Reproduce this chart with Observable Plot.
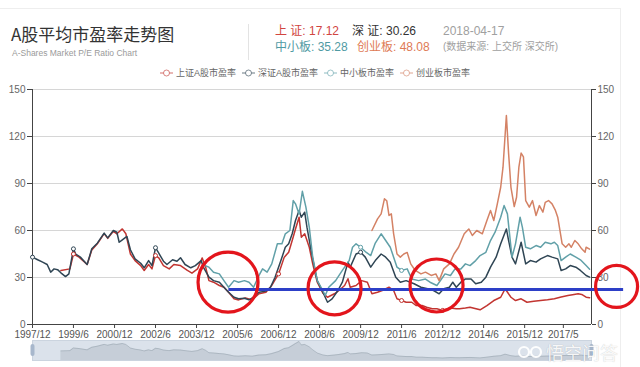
<!DOCTYPE html>
<html><head><meta charset="utf-8">
<script src="https://cdn.jsdelivr.net/npm/d3@7"></script>
<script src="https://cdn.jsdelivr.net/npm/@observablehq/plot@0.6"></script>
<style>
body{margin:0;background:#fff;font-family:"Liberation Sans","Noto Sans CJK SC",Arial,sans-serif;}
#wrap{position:relative;width:640px;height:367px;overflow:hidden;background:#fff;}
.abs{position:absolute;white-space:nowrap;}
#card{position:absolute;left:-2px;top:8px;width:623px;height:400px;border:1px solid #eee;box-sizing:border-box;}
#legend{position:absolute;left:160px;top:67px;display:flex;align-items:center;font-size:9px;line-height:12px;color:#666;}
#legend .it{display:flex;align-items:center;margin-right:6px;}
#legend svg{margin-right:3px;}
</style></head><body><div id="wrap"><div id="card"></div></div>
<script>
// ---------- data ----------
const seriesNames = ["上证A股市盈率", "深证A股市盈率", "中小板市盈率", "创业板市盈率"];
const seriesColors = ["#c23531", "#2f4554", "#61a0a8", "#d48265"];

const tickDates = ["1997-12","1999-06","2000-12","2002-06","2003-12","2005-06","2006-12","2008-06","2009-12","2011-06","2012-12","2014-06","2015-12","2017-05"];
const tickLabels = ["1997/12","1999/6","2000/12","2002/6","2003/12","2005/6","2006/12","2008/6","2009/12","2011/6","2012/12","2014/6","2015/12","2017/5"];
const yTicks = [0, 30, 60, 90, 120, 150];

const shanghai = [["1998-12-15",34.5],["1999-04-15",35.5],["1999-06",45],["1999-08-15",43],["1999-12",38.3],["2000-02",47.5],["2000-04-15",51.5],["2000-07-15",58],["2000-09",55],["2000-11-15",59.5],["2001-01",57.9],["2001-03-15",61],["2001-05",57.9],["2001-07",45],["2001-09",40.8],["2001-11-15",37.6],["2002-01",34.5],["2002-03",38.3],["2002-04-15",35.5],["2002-06",44],["2002-07-15",42.6],["2002-09-15",37.6],["2002-12",35.5],["2003-02",38.3],["2003-05",37.6],["2003-08",34.5],["2003-10",32.8],["2003-12-15",35.5],["2004-02-15",42.5],["2004-04",36.6],["2004-05-15",28],["2004-07-15",27],["2004-10",24.9],["2004-12",23.8],["2005-02",20.6],["2005-04-15",16.4],["2005-06-15",15.7],["2005-09-15",17],["2005-12-15",15.7],["2006-03-15",19.6],["2006-06-15",20.6],["2006-09",24.9],["2006-12",32.3],["2007-02-15",43],["2007-04-15",46.1],["2007-06",53.6],["2007-07-15",61],["2007-09",68.5],["2007-10",55.7],["2007-11-15",57.9],["2008-01-15",49.3],["2008-03",38.7],["2008-05",27],["2008-07-15",20],["2008-09-15",17.4],["2008-12-15",19.6],["2009-02-15",21.7],["2009-05",24.9],["2009-06-15",29.2],["2009-07-15",23.8],["2009-10",24.9],["2009-12-15",28],["2010-03",27],["2010-05",19.6],["2010-07-15",20.6],["2010-09-15",21.7],["2010-12-15",23.8],["2011-02-15",21.7],["2011-04",16.4],["2011-06",15.3],["2011-08",14.2],["2011-10-15",14.2],["2011-12-15",12.1],["2012-03",12.1],["2012-05",11],["2012-07-15",10],["2012-09-15",10],["2012-12",9],["2013-03-15",10.6],["2013-06",10],["2013-07-15",10],["2013-10",10.5],["2013-12",11],["2014-04-15",9.4],["2014-07-15",12.1],["2014-10-15",15.3],["2015-01-15",17.4],["2015-03-15",22.8],["2015-06",17.4],["2015-08",15.3],["2015-10-15",16.4],["2016-01",14.2],["2016-04",14.8],["2016-07",15.3],["2016-10",15.8],["2017-01",16.4],["2017-04",17.5],["2017-07",18.5],["2017-09",19],["2017-11-15",19.6],["2018-01",19.2],["2018-03",17.4],["2018-04-17",17.12]];

const shenzhen = [["1997-12",43],["1998-02",41.5],["1998-04-15",39.8],["1998-06-15",38.3],["1998-08",33.4],["1998-09-15",35.5],["1998-11",35],["1998-12-15",33],["1999-02-15",30.6],["1999-04",32.3],["1999-06",48.3],["1999-07",45],["1999-09",43],["1999-12",38.3],["2000-02",48.3],["2000-04-15",51.9],["2000-07-15",58.3],["2000-09",55.3],["2000-11-15",60],["2001-01",58.9],["2001-02",52.5],["2001-03-15",54],["2001-05-15",56.2],["2001-07",47.7],["2001-09",41.9],["2001-11-15",39.1],["2002-01",36.2],["2002-03",40.8],["2002-04-15",37.6],["2002-06",49],["2002-07-15",45.5],["2002-09-15",40.4],["2002-11",38.3],["2003-01-15",41.3],["2003-03-15",40.4],["2003-05",42.6],["2003-07",38.3],["2003-09-15",36.2],["2003-11-15",37.6],["2004-02",40.8],["2004-03",36.6],["2004-05-15",30.2],["2004-07-15",28],["2004-10",27],["2004-12",23.8],["2005-02",20.6],["2005-04-15",17.4],["2005-06-15",16.4],["2005-09",16.8],["2005-11",15.7],["2006-01",17.4],["2006-03-15",20.6],["2006-06-15",21.3],["2006-08-15",23.8],["2006-10-15",30.2],["2007-01",40.8],["2007-03",49.3],["2007-04-15",51.5],["2007-06",57.9],["2007-07-15",66.4],["2007-09",72.8],["2007-10",68.5],["2007-11-15",71.7],["2007-12-15",62.1],["2008-02",49.3],["2008-03-15",38.7],["2008-05",28],["2008-07-15",20.6],["2008-09-15",14.2],["2008-11-15",16.4],["2009-02",21.7],["2009-04",27],["2009-06-15",39.8],["2009-07-15",36.6],["2009-10",45],["2009-12",46.1],["2010-02",43],["2010-04-15",36.6],["2010-06-15",40.8],["2010-09",45],["2010-11",43],["2011-01",39.8],["2011-03-15",30.2],["2011-05-15",27],["2011-08",28],["2011-11-15",26],["2012-02-15",23.8],["2012-05-15",22.8],["2012-08",21.7],["2012-10-15",19.6],["2012-12-15",22.8],["2013-03",23.8],["2013-04-15",27],["2013-06",23.8],["2013-08",27],["2013-10",29.1],["2013-12-15",29.1],["2014-02-15",26],["2014-05",27],["2014-07",30.2],["2014-09",36.6],["2014-11-15",43],["2015-01-15",51.5],["2015-04",61],["2015-05",53.6],["2015-06-15",43],["2015-08",38.7],["2015-10-15",52.5],["2015-12-15",38.7],["2016-02-15",40.8],["2016-05",39.8],["2016-07",41.9],["2016-10",44],["2016-12",43],["2017-02-15",41.9],["2017-04",34.5],["2017-06",35.5],["2017-08",37.6],["2017-10-15",36.6],["2017-12-15",34.5],["2018-03",31.3],["2018-04-17",30.26]];

const sme = [["2004-03",38],["2004-05-15",36.6],["2004-07-15",33.4],["2004-10",32.3],["2004-12",28],["2005-02",23.8],["2005-04-15",28],["2005-06-15",27],["2005-09",28],["2005-11",27],["2006-01",23.8],["2006-03-15",31.3],["2006-05",35.5],["2006-07",33.4],["2006-09",38.7],["2006-11-15",51.5],["2007-01-15",51.5],["2007-03",57.9],["2007-05",60],["2007-06-15",79.1],["2007-07-15",77],["2007-09",70.6],["2007-10-15",85],["2007-12",74.9],["2008-01-15",62.1],["2008-03",43],["2008-05",28],["2008-07-15",21.7],["2008-08-15",18.5],["2008-10",23.8],["2009-01",28],["2009-04",34.5],["2009-07",40.8],["2009-08-15",49.3],["2009-10",51.5],["2009-12",49.3],["2010-02-15",46],["2010-04-15",44],["2010-06-15",52],["2010-09",57.9],["2010-11",53.6],["2011-01",49.3],["2011-02-15",43],["2011-04",36.6],["2011-06",34.5],["2011-08-15",35.5],["2011-10-15",29],["2012-01-15",28],["2012-04-15",29],["2012-06-15",27],["2012-09-15",24.9],["2012-11",28],["2013-01",32.3],["2013-03-15",31.3],["2013-05-15",35.5],["2013-08",35.5],["2013-10",38.7],["2013-12",37.6],["2014-02-15",40.8],["2014-04-15",44],["2014-07",46.1],["2014-09",53.6],["2014-11",58.9],["2015-01-15",68.5],["2015-03",75.9],["2015-04-15",70.6],["2015-06-15",43],["2015-08",51.5],["2015-10",68.5],["2015-11",62],["2015-12-15",49.3],["2016-02-15",48.3],["2016-05",50.4],["2016-07",49.3],["2016-09",52.5],["2016-11-15",51.5],["2017-01",52.5],["2017-02-15",50.4],["2017-04",40.8],["2017-06",43],["2017-08",45],["2017-10-15",43],["2017-12-15",41.3],["2018-03",37.6],["2018-04-17",35.28]];

const chinext = [["2010-05",60],["2010-07-15",67.4],["2010-09",70.6],["2010-10-15",80.2],["2010-11-15",79],["2010-12-15",69.6],["2011-01-15",70.6],["2011-02-15",57.9],["2011-04",45],["2011-05-15",43],["2011-07",45],["2011-08-15",46],["2011-10",38.7],["2011-12",34.5],["2012-02-15",32.3],["2012-04-15",33.4],["2012-07",31.3],["2012-09",32.3],["2012-10-15",28],["2012-12-15",35.5],["2013-03",38.7],["2013-05",45],["2013-07",49.3],["2013-09-15",57.9],["2013-11-15",61],["2014-01",56.8],["2014-03",60],["2014-05-15",57.9],["2014-07-15",66.4],["2014-09",72.8],["2014-10-15",66.4],["2014-12",77],["2015-01-15",87.6],["2015-02-15",100.4],["2015-04",133.4],["2015-05",108.9],["2015-06",87.6],["2015-07-15",75.3],["2015-08-15",81.2],["2015-09-15",100.4],["2015-10-15",109.4],["2015-11-15",107],["2015-12-15",79.1],["2016-02",74.9],["2016-03-15",79.1],["2016-05",69.6],["2016-06-15",75.9],["2016-08",71.7],["2016-09",78],["2016-10-15",79.1],["2016-12",77],["2017-01-15",72.8],["2017-02-15",68.5],["2017-04-15",51.5],["2017-06",49.3],["2017-07-15",51.5],["2017-08-15",49.3],["2017-10",53.6],["2017-11-15",51.5],["2018-01",48.3],["2018-02-15",46.1],["2018-03",49.3],["2018-04-17",48.08]];

const latestDate = "2018-04-17";
const latestValues = [17.12, 30.26, 35.28, 48.08];

// hand-drawn annotations on the picture (data coordinates)
const ringDates = ["2005-01-25", "2008-12-18", "2012-09-10", "2019-04-12"];
const ringValues = [27, 23, 24.9, 24.3];
const baseLineValue = 22.3;
const baseLineStart = "2005-02-05";
const baseLineEnd = "2019-07-15";

// ---------- build ----------
const parse = s => new Date(s.length === 7 ? s + "-01T00:00:00Z" : s + "T00:00:00Z");
const allSeries = [shanghai, shenzhen, sme, chinext];
const rows = [];
allSeries.forEach((arr, i) => arr.forEach(([d, v]) => rows.push({series: seriesNames[i], date: parse(d), value: v})));
const tickDateObjs = tickDates.map(parse);
const tickLabelMap = new Map(tickDateObjs.map((d, i) => [+d, tickLabels[i]]));
const tickSet = new Set(tickDateObjs.map(d => +d));
const xDomain = [parse("1997-12"), parse("2018-05-12")];
const colorScale = {domain: seriesNames, range: seriesColors};
const rings = ringDates.map((d, i) => ({date: parse(d), value: ringValues[i]}));
const ringRadius = [30, 26.5, 26.5, 21];

const wrap = document.getElementById("wrap");
function addText(txt, left, top, size, color, extra) {
  const d = document.createElement("div");
  d.className = "abs";
  d.textContent = txt;
  d.style.cssText += `left:${left}px;top:${top}px;font-size:${size}px;line-height:${size + 2}px;color:${color};` + (extra || "");
  wrap.appendChild(d);
  return d;
}

// main chart
const chart = Plot.plot({
  width: 640, height: 342,
  marginTop: 89, marginBottom: 18, marginLeft: 32, marginRight: 49,
  style: {fontFamily: "'Liberation Sans', Arial, sans-serif", fontSize: "10px", background: "transparent", overflow: "visible"},
  x: {type: "utc", domain: xDomain, axis: null, label: null},
  y: {domain: [0, 150], axis: null, label: null},
  color: colorScale,
  marks: [
    Plot.gridY(yTicks.slice(1), {stroke: "#d6d6d6", strokeOpacity: 1}),
    Plot.axisY(yTicks, {anchor: "left", label: null, tickSize: 5, tickPadding: 2, stroke: "#444", fill: "#666", fontSize: 10}),
    Plot.axisY(yTicks, {anchor: "right", label: null, tickSize: 4, tickPadding: 2, stroke: "#444", fill: "#666", fontSize: 10}),
    Plot.axisX(tickDateObjs, {label: null, tickSize: 4, tickPadding: 2, stroke: "#444", fill: "#555", fontSize: 10, tickFormat: d => tickLabelMap.get(+d)}),
    Plot.ruleX([xDomain[0], xDomain[1]], {stroke: "#444", strokeWidth: 1}),
    Plot.ruleY([0], {stroke: "#444", strokeWidth: 1}),
    Plot.line(rows, {x: "date", y: "value", z: "series", stroke: "series", strokeWidth: 1.5}),
    Plot.dot(rows.filter(r => tickSet.has(+r.date)), {x: "date", y: "value", stroke: "series", fill: "white", r: 2, strokeWidth: 1}),
    Plot.ruleY([baseLineValue], {x1: parse(baseLineStart), x2: parse(baseLineEnd), stroke: "#2d3fc7", strokeWidth: 3}),
    ...rings.map((r, i) => Plot.dot([r], {x: "date", y: "value", r: ringRadius[i], stroke: "#e3151c", strokeWidth: 3.2, fill: "none"}))
  ]
});
chart.style.position = "absolute";
chart.style.left = "0px";
chart.style.top = "0px";
wrap.appendChild(chart);

// slider (dataZoom) strip
const shRows = rows.filter(r => r.series === seriesNames[0]);
const slider = Plot.plot({
  width: 640, height: 20,
  marginTop: 0, marginBottom: 0, marginLeft: 32, marginRight: 49,
  style: {background: "transparent", overflow: "visible"},
  x: {type: "utc", domain: xDomain, axis: null},
  y: {domain: [0, 72], axis: null},
  marks: [
    Plot.frame({fill: "#dbe2eb", stroke: "#cbd4df"}),
    Plot.areaY(shRows, {x: "date", y: "value", fill: "#2f4554", fillOpacity: 0.12}),
    Plot.lineY(shRows, {x: "date", y: "value", stroke: "#2f4554", strokeOpacity: 0.25, strokeWidth: 0.7}),
    Plot.ruleX(xDomain, {y1: 22, y2: 50, stroke: "#a7b7cc", strokeWidth: 4, strokeLinecap: "round"})
  ]
});
slider.style.position = "absolute";
slider.style.left = "0px";
slider.style.top = "340px";
wrap.appendChild(slider);

// header
addText("A股平均市盈率走势图", 11, 24, 17, "#333", "font-family:'Noto Sans CJK SC',sans-serif;line-height:19px;");
addText("A-Shares Market P/E Ratio Chart", 12, 48, 8.5, "#9a9a9a");
const sep = document.createElement("div");
sep.className = "abs";
sep.style.cssText += "left:248px;top:24px;width:1px;height:36px;background:#e3e3e3;";
wrap.appendChild(sep);
const fmt = v => v.toFixed(2);
addText("上 证: " + fmt(latestValues[0]), 275, 24, 12, "#d1453f");
addText("深 证: " + fmt(latestValues[1]), 352, 24, 12, "#333");
addText(latestDate, 443, 24, 12, "#a0a0a0");
addText("中小板: " + fmt(latestValues[2]), 275, 40, 12, "#4f9aa3");
addText("创业板: " + fmt(latestValues[3]), 357, 40, 12, "#de7a55");
addText("(数据来源: 上交所 深交所)", 443, 41, 10, "#a0a0a0");

// legend
const legend = document.createElement("div");
legend.id = "legend";
seriesNames.forEach((n, i) => {
  const it = document.createElement("div");
  it.className = "it";
  it.innerHTML = `<svg width="13" height="10"><line x1="0" y1="5" x2="13" y2="5" stroke="${seriesColors[i]}" stroke-opacity="0.6" stroke-width="1.2"/><circle cx="6.5" cy="5" r="3" fill="white" stroke="${seriesColors[i]}" stroke-opacity="0.6" stroke-width="1"/></svg><span>${n}</span>`;
  legend.appendChild(it);
});
wrap.appendChild(legend);

// watermark
addText("悟空问答", 546, 342, 18, "rgba(255,255,255,0.92)", "font-family:'Noto Sans CJK SC',sans-serif;line-height:20px;text-shadow:0 0 1px rgba(0,0,0,0.25);");
const logo = document.createElement("div");
logo.className = "abs";
logo.style.cssText += "left:517px;top:345px;";
logo.innerHTML = '<svg width="26" height="14"><circle cx="7" cy="7" r="5" fill="none" stroke="rgba(255,255,255,0.95)" stroke-width="2.2"/><circle cx="19" cy="7" r="5" fill="none" stroke="rgba(255,255,255,0.95)" stroke-width="2.2"/></svg>';
wrap.appendChild(logo);
</script></body></html>
